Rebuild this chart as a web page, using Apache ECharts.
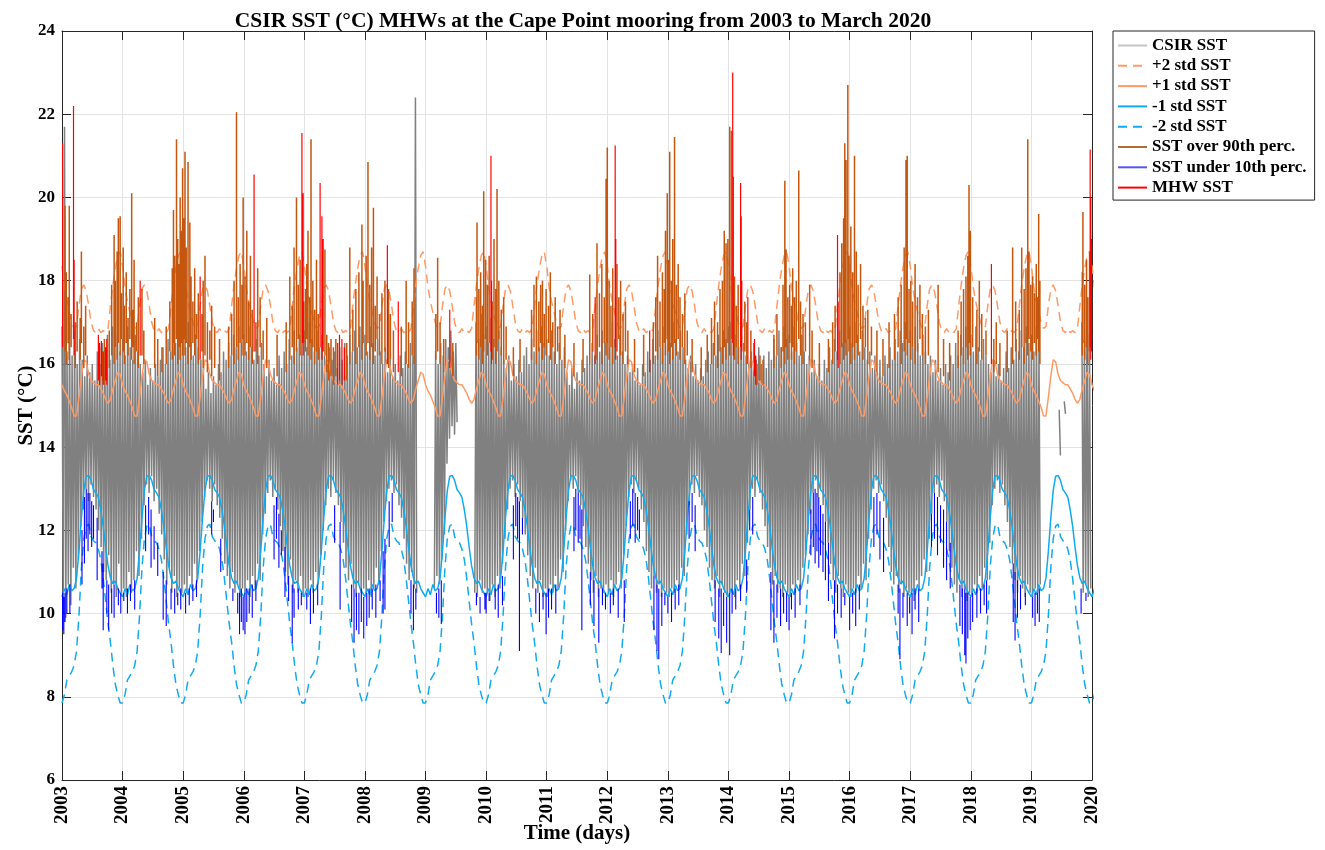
<!DOCTYPE html>
<html>
<head>
<meta charset="utf-8">
<title>CSIR SST MHWs at the Cape Point mooring</title>
<script src="https://cdn.jsdelivr.net/npm/echarts@6/dist/echarts.min.js"></script>
<style>
  html, body { margin: 0; padding: 0; background: #fff; }
  #container { width: 1325px; height: 850px; }
</style>
</head>
<body>
<div id="container"></div>
<script>
// climatology, one year, as fraction of the year (repeated every year)
const climFrac = [0.00, 0.04, 0.08, 0.12, 0.16, 0.20, 0.24, 0.28, 0.32, 0.36, 0.40, 0.44, 0.48,
                  0.52, 0.56, 0.60, 0.64, 0.68, 0.72, 0.76, 0.80, 0.84, 0.88, 0.92, 0.96];
const plus2Std = [18.35, 17.85, 17.5, 17.25, 17.0, 16.85, 16.9, 17.4, 17.8, 17.9, 17.75, 17.4, 17.0,
                  16.8, 16.75, 16.85, 16.75, 16.8, 16.75, 16.85, 17.4, 17.9, 18.3, 18.6, 18.7];
const plus1Std = [15.5, 15.35, 15.25, 15.1, 14.95, 14.75, 14.75, 15.2, 15.7, 16.1, 16.05, 15.75, 15.6,
                  15.55, 15.5, 15.5, 15.4, 15.3, 15.15, 15.05, 15.15, 15.4, 15.6, 15.8, 15.75];
const minus1Std = [10.4, 10.6, 10.45, 10.7, 10.55, 10.6, 10.85, 11.5, 12.3, 12.96, 13.3, 13.32, 13.2,
                   12.98, 12.9, 12.8, 12.5, 12.1, 11.6, 11.15, 10.86, 10.72, 10.78, 10.6, 10.5];
const minus2Std = [7.85, 8.05, 8.4, 8.5, 8.6, 8.75, 9.1, 9.95, 11.1, 11.8, 12.1, 12.15, 11.85,
                   11.75, 11.7, 11.55, 11.3, 10.85, 10.3, 9.75, 9.3, 8.75, 8.3, 8.05, 7.85];
const climYears = [2003, 2004, 2005, 2006, 2007, 2008, 2009, 2010, 2011, 2012,
                   2013, 2014, 2015, 2016, 2017, 2018, 2019, 2020];

// CSIR SST, 48 samples per year (null = no data)
const sstYears = [2003, 2004, 2005, 2006, 2007, 2008, 2009, 2010, 2011,
                  2012, 2013, 2014, 2015, 2016, 2017, 2018, 2019];
const sstRows = [
  [16.9,10.0,21.7,9.9,16.3,10.7,17.0,10.2,16.2,11.1,16.8,10.6,16.0,11.3,16.6,12.1,16.1,12.5,15.7,13.0,16.2,12.7,15.8,13.1,16.0,12.8,15.6,12.5,16.3,12.0,16.0,11.6,16.5,11.0,16.2,10.8,16.7,11.4,16.1,10.5,16.9,10.7,16.4,10.4,16.7,11.2,16.3,10.5],
  [16.6,10.6,16.2,10.4,16.9,11.0,16.4,10.5,16.1,10.8,16.7,11.5,16.3,10.9,16.0,11.8,15.8,12.6,16.1,13.1,15.5,12.9,15.9,13.3,15.6,12.7,16.0,13.0,15.7,12.4,16.1,11.9,16.4,11.3,16.0,10.7,16.6,11.1,16.3,10.5,16.8,10.9,16.5,10.4,16.9,10.6,16.6,10.5],
  [16.8,10.7,16.4,10.5,17.0,10.9,16.5,10.6,16.2,11.2,16.7,10.8,16.4,11.5,16.1,12.2,15.9,12.8,15.4,13.2,15.8,13.0,15.3,12.7,15.7,13.1,15.5,12.6,16.0,12.3,15.8,11.8,16.3,11.2,16.1,10.9,16.5,10.6,16.2,11.0,16.7,10.5,16.4,10.7,16.9,10.4,16.5,10.6],
  [16.7,10.5,16.3,10.8,16.9,10.4,16.4,10.9,16.1,10.6,16.6,11.2,16.2,10.8,16.5,11.9,16.0,12.4,15.7,12.9,16.1,13.2,15.6,12.8,15.9,13.0,15.5,12.5,16.2,12.1,15.9,11.5,16.3,11.0,16.0,10.7,16.6,11.3,16.2,10.5,16.8,10.8,16.4,10.5,16.7,10.9,16.5,10.4],
  [16.8,10.6,16.4,10.4,17.0,10.8,16.6,10.5,16.3,11.0,16.8,10.7,16.4,11.4,16.7,12.0,16.2,12.6,16.0,13.0,16.4,12.8,16.1,13.2,16.3,12.9,15.9,12.6,16.4,12.2,16.1,11.7,16.5,11.1,16.2,10.8,16.7,11.2,16.3,10.6,16.8,10.4,16.4,10.7,16.9,10.5,16.5,10.6],
  [16.7,10.5,16.3,10.8,16.9,10.4,16.5,10.6,16.2,11.1,16.6,10.7,16.3,11.5,16.0,12.2,16.4,12.7,15.8,13.0,16.1,13.2,15.7,12.9,16.0,13.1,15.6,12.6,16.2,12.3,15.9,11.8,16.3,11.2,16.0,10.8,16.5,11.0,16.2,10.6,22.4,10.5,null,null,null,null,null,null],
  [null,null,null,null,null,null,null,10.6,16.3,10.9,16.0,10.7,16.5,11.3,16.2,11.9,16.6,13.6,16.4,14.2,16.8,14.5,16.3,14.3,16.5,14.6,null,null,null,null,null,null,null,null,null,null,null,null,null,10.5,17.0,10.4,16.6,10.8,17.2,10.5,16.7,10.6],
  [16.9,10.5,16.5,10.3,17.1,10.7,16.6,10.4,16.3,10.9,16.8,10.6,16.4,11.2,16.1,11.8,15.9,12.5,16.2,13.0,15.6,13.2,16.0,12.8,15.7,13.1,16.1,12.7,15.8,12.3,16.2,11.9,16.4,11.4,16.0,10.9,16.6,10.6,16.3,11.1,16.8,10.5,16.4,10.8,16.9,10.4,16.5,10.6],
  [16.6,10.4,16.2,10.7,16.8,10.5,16.3,10.9,16.0,10.6,16.5,11.3,16.1,11.0,16.4,12.0,15.8,12.7,15.5,13.2,15.9,13.0,15.4,13.3,15.8,12.9,15.6,12.6,16.1,12.1,15.9,11.6,16.2,11.2,16.0,10.8,16.5,10.5,16.2,10.9,16.7,10.4,16.3,10.6,16.8,10.5,16.5,10.7],
  [16.9,10.5,16.4,10.8,17.0,10.4,16.6,10.7,16.2,11.0,16.7,10.6,16.3,11.4,16.0,12.1,16.2,12.8,15.8,13.1,16.0,12.9,15.6,13.2,15.9,13.0,15.5,12.5,16.0,12.2,15.8,11.5,16.3,11.0,16.1,10.6,16.6,10.9,16.2,10.5,16.8,10.7,16.4,10.4,16.9,10.6,16.5,10.5],
  [16.8,10.4,16.5,10.6,17.0,10.5,16.6,10.8,16.3,10.6,16.8,11.1,16.4,10.9,16.1,11.9,15.9,12.6,16.2,13.1,15.7,12.9,16.0,13.3,15.6,12.8,15.9,12.6,15.7,12.0,16.1,11.6,16.3,11.1,16.0,10.8,16.5,10.6,16.2,10.9,16.7,10.4,16.4,10.7,16.8,10.5,16.6,10.4],
  [16.9,10.5,17.0,10.6,16.5,10.4,16.7,10.8,16.4,10.6,16.9,11.2,16.5,10.9,16.2,11.7,16.0,12.5,16.3,13.0,16.5,12.8,16.1,13.2,16.4,12.9,16.0,12.5,16.2,12.1,15.9,11.6,16.3,11.1,16.1,10.7,16.6,10.9,16.2,10.5,16.8,10.6,16.4,10.4,16.9,10.7,16.6,10.5],
  [16.7,10.4,16.3,10.7,16.9,10.5,16.5,10.8,16.2,10.6,16.7,11.1,16.3,11.4,16.0,11.9,16.2,12.4,15.8,12.9,16.1,13.2,15.7,12.8,16.0,13.0,15.6,12.6,16.1,12.2,15.9,11.7,16.4,11.2,16.1,10.8,16.6,10.5,16.3,10.9,16.8,10.6,16.5,10.4,17.0,10.7,16.6,10.5],
  [16.9,10.4,16.5,10.6,17.0,10.5,16.7,10.9,16.3,10.6,16.8,11.2,16.4,10.8,16.1,11.8,16.3,12.5,15.9,13.0,16.2,13.2,15.8,12.9,16.1,13.1,15.7,12.7,16.2,12.3,16.0,11.6,16.4,11.0,16.1,10.7,16.6,10.9,16.3,10.5,16.8,10.7,16.5,10.4,17.0,10.6,16.6,10.5],
  [16.8,10.5,16.4,10.3,16.9,10.8,16.5,10.6,16.2,10.9,16.7,11.3,16.3,11.0,16.0,11.8,16.2,12.4,15.8,12.9,16.1,13.1,15.6,12.8,15.9,13.2,15.5,12.7,16.0,12.2,15.8,11.5,16.2,11.1,16.0,10.7,16.5,10.5,16.2,10.8,16.7,10.4,16.4,10.6,16.9,10.3,16.5,10.5],
  [16.7,10.4,16.3,10.7,16.9,10.5,16.4,10.9,16.1,10.6,16.6,11.1,16.2,10.8,16.0,11.7,15.8,12.6,16.1,13.0,15.7,13.2,16.0,12.9,15.6,13.1,15.9,12.6,16.3,12.2,15.9,11.6,16.4,11.2,16.1,10.8,16.6,10.5,16.3,10.9,16.8,10.6,16.4,10.4,16.9,10.7,16.5,10.5],
  [16.7,10.4,16.3,10.6,16.9,10.5,16.4,10.7,null,null,null,null,null,null,null,null,null,null,null,null,null,null,14.9,13.8,null,null,15.1,14.8,null,null,null,null,null,null,null,null,null,null,null,null,17.0,10.5,16.6,10.7,17.1,10.4,16.7,10.6]
];

// SST over 90th percentile: [year, base, peak]
const over90 = [
  [2003.05,16.3,19.8],[2003.07,16.0,18.2],[2003.10,16.5,17.6],[2003.12,16.1,19.8],[2003.15,16.4,17.2],[2003.22,15.9,17.0],[2003.25,16.3,17.5],[2003.30,16.1,17.1],[2003.32,16.5,18.7],[2003.36,15.9,16.9],[2003.39,16.2,17.4],[2003.62,15.5,16.4],[2003.67,15.6,16.3],[2003.70,15.5,16.6],[2003.78,15.9,16.8],[2003.82,16.2,17.9],[2003.86,16.0,19.1],[2003.88,16.4,18.0],[2003.91,16.1,18.7],[2003.93,16.5,19.5],[2003.96,16.2,19.55],[2003.98,16.6,17.7],
  [2004.01,16.3,18.8],[2004.03,16.0,17.4],[2004.06,16.5,18.2],[2004.09,16.2,17.1],[2004.12,16.6,17.8],[2004.15,16.1,20.1],[2004.17,16.4,17.3],[2004.19,16.0,18.5],[2004.23,16.3,17.0],[2004.26,15.9,17.6],[2004.32,16.2,17.8],[2004.35,16.0,16.8],[2004.53,15.9,17.1],[2004.58,15.7,16.6],[2004.65,15.8,16.4],[2004.72,16.0,16.9],[2004.78,16.3,17.5],[2004.82,16.1,18.3],[2004.84,16.5,19.7],[2004.86,16.2,18.6],[2004.89,16.6,21.4],[2004.91,16.0,19.0],[2004.93,16.4,18.4],[2004.95,16.1,20.0],[2004.97,16.5,19.2],[2004.99,16.2,20.7],
  [2005.01,16.6,19.5],[2005.03,16.2,21.1],[2005.05,16.5,18.8],[2005.08,16.0,20.85],[2005.11,16.4,19.4],[2005.13,16.1,18.1],[2005.16,16.5,17.5],[2005.19,16.2,18.3],[2005.22,16.6,17.2],[2005.25,16.0,17.7],[2005.31,16.3,17.2],[2005.33,15.9,18.0],[2005.36,16.2,18.6],[2005.40,15.8,17.0],[2005.44,16.1,16.8],[2005.47,15.7,17.4],[2005.52,15.9,16.9],[2005.60,15.6,16.6],[2005.75,15.9,16.9],[2005.80,16.2,17.2],[2005.84,16.0,18.0],[2005.88,16.4,22.05],[2005.91,16.1,17.6],[2005.94,16.5,18.4],[2005.97,16.2,17.9],[2005.99,16.6,20.0],
  [2006.02,16.2,18.1],[2006.05,16.5,19.2],[2006.08,16.1,17.5],[2006.11,16.4,18.6],[2006.14,16.0,17.3],[2006.20,16.3,17.0],[2006.23,16.0,18.3],[2006.27,16.4,17.6],[2006.32,16.1,16.8],[2006.38,15.9,17.1],[2006.55,15.7,16.7],[2006.70,15.8,17.0],[2006.76,16.1,18.1],[2006.80,16.4,17.4],[2006.83,16.0,18.8],[2006.87,16.3,20.0],[2006.90,16.6,17.9],[2006.93,16.2,18.5],[2006.99,16.5,17.5],
  [2007.02,16.3,17.8],[2007.04,16.6,18.4],[2007.06,16.2,19.2],[2007.09,16.5,17.6],[2007.11,16.1,21.4],[2007.14,16.4,18.0],[2007.17,16.0,17.3],[2007.20,16.3,18.5],[2007.23,16.1,17.2],[2007.34,16.2,18.75],[2007.37,15.8,16.7],[2007.40,15.6,16.5],[2007.44,15.7,16.6],[2007.48,15.5,16.4],[2007.52,15.7,16.6],[2007.70,15.6,16.5],[2007.75,16.0,18.8],[2007.80,16.3,17.3],[2007.85,16.0,17.8],[2007.90,16.4,18.2],[2007.95,16.1,19.35],[2007.97,16.5,18.0],
  [2008.02,16.2,18.6],[2008.05,16.5,20.85],[2008.08,16.1,17.9],[2008.11,16.4,18.8],[2008.14,16.0,19.75],[2008.17,16.3,17.4],[2008.20,16.6,18.1],[2008.24,16.2,17.2],[2008.28,16.0,17.7],[2008.33,16.3,18.0],[2008.39,15.9,17.8],[2008.42,16.1,17.2],[2008.47,15.8,16.8],[2008.60,15.7,16.9],[2008.68,16.0,18.0],[2008.72,15.9,17.0],[2008.78,16.2,17.5],[2008.81,16.0,18.3],
  [2009.17,16.1,17.2],[2009.20,16.3,18.55],[2009.24,16.0,17.0],[2009.30,15.8,16.6],[2009.45,15.7,16.5],[2009.84,16.2,17.6],[2009.85,16.5,19.4],[2009.88,16.1,17.8],[2009.91,16.4,18.2],[2009.94,16.0,17.4],[2009.96,16.3,20.15],[2009.99,16.6,18.5],
  [2010.02,16.2,17.9],[2010.05,16.5,18.6],[2010.10,16.1,17.5],[2010.13,16.4,19.0],[2010.16,16.0,17.8],[2010.18,16.3,20.2],[2010.21,16.6,18.0],[2010.25,16.2,17.3],[2010.29,16.0,17.6],[2010.33,16.1,16.9],[2010.45,15.7,16.4],[2010.56,15.8,16.6],[2010.75,16.1,17.3],[2010.79,16.4,17.9],[2010.83,16.0,18.1],[2010.87,16.3,17.5],[2010.90,16.5,17.9],[2010.93,16.1,18.0],[2010.96,16.4,17.2],[2010.99,16.2,17.8],
  [2011.03,16.5,17.4],[2011.06,16.1,18.2],[2011.10,16.4,17.0],[2011.14,16.0,17.6],[2011.18,16.3,16.9],[2011.22,16.1,17.3],[2011.30,15.9,16.7],[2011.45,15.7,16.5],[2011.60,15.8,16.6],[2011.71,16.0,18.15],[2011.76,16.3,17.2],[2011.83,16.1,18.9],[2011.87,16.4,17.7],[2011.91,16.0,18.4],[2011.95,16.5,17.6],[2011.98,16.2,20.45],
  [2012.00,16.5,21.2],[2012.03,16.1,18.0],[2012.06,16.4,17.4],[2012.09,16.0,18.3],[2012.16,16.3,18.4],[2012.19,16.6,17.6],[2012.22,16.2,18.0],[2012.26,16.0,17.2],[2012.30,16.3,17.5],[2012.34,16.0,16.8],[2012.45,15.8,16.6],[2012.60,15.7,16.7],[2012.76,16.0,17.0],[2012.80,16.3,17.6],[2012.83,16.1,18.6],[2012.87,16.4,17.5],[2012.91,16.0,18.2],[2012.94,16.5,17.8],[2012.96,16.2,19.2],[2012.99,16.6,20.1],
  [2013.01,16.3,18.5],[2013.03,16.0,21.1],[2013.06,16.4,18.0],[2013.08,16.1,19.0],[2013.11,16.5,21.45],[2013.14,16.2,17.9],[2013.17,16.6,18.4],[2013.20,16.1,17.6],[2013.24,16.4,17.2],[2013.28,16.0,17.7],[2013.32,16.2,16.8],[2013.40,15.8,16.6],[2013.55,15.6,16.4],[2013.65,15.8,16.7],[2013.72,16.0,17.1],[2013.77,16.2,17.5],[2013.82,15.9,17.0],[2013.86,16.3,17.8],[2013.90,16.0,18.0],[2013.93,16.4,19.2],[2013.96,16.1,18.9],[2013.99,16.5,19.0],
  [2014.02,16.2,21.7],[2014.05,16.6,21.6],[2014.10,16.1,18.1],[2014.13,16.4,17.4],[2014.16,16.0,17.9],[2014.27,16.3,17.5],[2014.30,16.0,17.0],[2014.37,15.9,16.8],[2014.47,15.5,16.0],[2014.52,15.6,16.2],[2014.57,15.5,16.1],[2014.75,15.9,16.7],[2014.80,16.2,17.2],[2014.87,15.9,16.4],[2014.90,16.3,17.9],[2014.93,16.0,20.4],[2014.95,16.4,18.75],[2014.98,16.1,17.6],
  [2015.01,16.5,17.9],[2015.04,16.1,17.4],[2015.06,16.4,18.3],[2015.09,16.0,17.6],[2015.12,16.3,18.0],[2015.16,16.6,20.65],[2015.19,16.2,17.5],[2015.23,16.0,17.2],[2015.27,16.3,17.0],[2015.34,16.1,17.9],[2015.38,15.9,16.8],[2015.50,15.7,16.5],[2015.65,15.8,16.6],[2015.72,16.0,17.0],[2015.76,16.3,17.4],[2015.84,16.0,18.2],[2015.87,16.4,18.9],[2015.90,16.1,19.5],[2015.92,16.5,21.3],[2015.94,16.2,20.9],[2015.97,16.6,22.7],[2015.99,16.3,18.6],
  [2016.02,16.0,19.3],[2016.05,16.4,18.2],[2016.08,16.1,21.0],[2016.11,16.5,18.7],[2016.14,16.2,17.9],[2016.18,16.6,18.4],[2016.22,16.1,17.4],[2016.26,16.4,17.1],[2016.30,16.0,17.3],[2016.36,16.2,16.9],[2016.45,15.8,16.8],[2016.55,15.7,16.6],[2016.65,15.9,17.0],[2016.74,16.1,17.2],[2016.80,16.4,17.6],[2016.85,16.0,17.9],[2016.90,16.3,18.8],[2016.93,16.6,20.9],[2016.95,16.2,21.0],[2016.98,16.5,17.8],
  [2017.01,16.1,18.0],[2017.04,16.4,17.5],[2017.08,16.0,18.4],[2017.12,16.3,17.6],[2017.16,16.6,17.9],[2017.20,16.2,17.2],[2017.25,16.0,16.9],[2017.30,16.2,17.3],[2017.46,15.8,17.9],[2017.55,15.7,16.6],[2017.65,15.6,16.5],[2017.79,15.9,16.8],[2017.84,16.2,17.5],[2017.88,16.0,17.8],[2017.92,16.4,18.1],[2017.95,16.1,18.6],[2017.97,16.5,20.3],[2017.99,16.2,19.2],
  [2018.03,16.4,17.6],[2018.10,16.0,17.3],[2018.14,16.3,18.0],[2018.18,16.1,17.2],[2018.25,16.2,16.8],[2018.38,15.8,16.6],[2018.42,16.0,17.0],[2018.48,15.7,16.5],[2018.60,15.8,16.8],[2018.69,16.0,18.8],[2018.74,16.3,17.5],[2018.80,16.1,17.3],[2018.84,16.4,18.8],[2018.88,16.0,17.8],[2018.91,16.5,18.3],[2018.94,16.2,21.4],[2018.96,16.6,18.7],[2018.99,16.3,17.9],
  [2019.02,16.1,18.1],[2019.05,16.5,17.7],[2019.08,16.2,18.4],[2019.10,16.6,17.6],[2019.12,16.3,19.6],[2019.14,16.0,18.0],[2019.84,16.2,18.2],[2019.85,16.5,19.65],[2019.88,16.1,17.9],[2019.91,16.4,18.5],[2019.93,16.0,17.6],[2019.96,16.3,18.7],[2019.99,16.6,18.9]
];

// SST under 10th percentile: [year, top, bottom]
const under10 = [
  [2003.01,10.5,9.6],[2003.03,10.4,9.5],[2003.05,10.5,9.8],[2003.08,10.6,10.0],[2003.13,10.7,10.0],[2003.33,12.0,10.7],[2003.37,12.8,11.2],[2003.40,13.0,11.8],[2003.43,12.9,11.5],[2003.46,12.9,11.9],[2003.49,12.7,11.6],[2003.52,12.6,11.8],[2003.58,12.3,10.8],[2003.66,11.5,10.6],[2003.68,11.2,9.6],[2003.74,10.8,10.0],[2003.77,10.7,9.6],[2003.82,10.6,10.0],[2003.86,10.7,9.9],[2003.93,10.6,10.2],[2003.97,10.5,10.0],
  [2004.02,10.5,10.3],[2004.08,10.6,10.0],[2004.13,10.7,10.3],[2004.20,10.8,10.1],[2004.38,12.6,11.5],[2004.43,12.8,11.9],[2004.47,12.5,11.1],[2004.52,12.1,11.3],[2004.58,11.7,10.9],[2004.67,11.0,9.85],[2004.72,10.8,9.7],[2004.80,10.6,10.1],[2004.86,10.6,10.0],[2004.91,10.5,10.2],[2004.96,10.6,10.1],
  [2005.04,10.5,10.0],[2005.10,10.6,10.2],[2005.16,10.7,10.3],[2005.22,10.8,10.4],[2005.47,12.7,11.9],[2005.50,12.5,12.2],[2005.62,11.8,11.0],[2005.82,10.6,10.3],[2005.90,10.5,10.0],[2005.93,10.5,9.5],[2005.96,10.6,9.8],[2005.99,10.4,9.6],
  [2006.02,10.5,9.5],[2006.05,10.6,9.8],[2006.09,10.6,10.0],[2006.14,10.7,9.9],[2006.20,10.8,10.3],[2006.50,12.6,11.3],[2006.54,12.8,11.8],[2006.58,12.4,11.1],[2006.62,12.0,11.4],[2006.68,11.6,10.4],[2006.74,10.9,10.3],[2006.80,10.7,9.3],[2006.83,10.6,9.9],[2006.90,10.6,10.1],[2006.95,10.5,10.2],
  [2007.04,10.5,10.1],[2007.10,10.6,9.75],[2007.15,10.6,10.0],[2007.22,10.7,10.2],[2007.50,12.6,11.7],[2007.59,12.2,10.1],[2007.78,10.7,9.8],[2007.82,10.6,9.3],[2007.86,10.5,9.6],[2007.90,10.5,9.5],[2007.94,10.6,9.8],[2007.98,10.4,9.4],
  [2008.03,10.5,9.7],[2008.07,10.6,9.9],[2008.12,10.6,10.1],[2008.18,10.7,9.9],[2008.25,10.8,10.3],[2008.30,11.5,10.0],[2008.33,11.8,10.1],[2008.40,12.7,11.6],[2008.45,12.9,12.2],[2008.76,10.8,10.0],[2008.80,10.7,9.6],[2008.84,10.6,10.1],
  [2009.18,10.5,10.0],[2009.22,10.6,9.9],[2009.26,10.8,9.75],[2009.84,10.5,10.2],[2009.90,10.4,10.0],[2009.98,10.5,10.1],
  [2010.00,10.5,10.0],[2010.05,10.5,10.3],[2010.15,10.6,10.1],[2010.20,10.7,9.9],[2010.27,10.9,10.2],[2010.45,12.6,11.3],[2010.49,12.9,12.1],[2010.52,12.8,11.8],[2010.55,12.7,9.1],[2010.60,12.3,11.9],[2010.82,10.6,10.0],[2010.88,10.5,9.8],[2010.94,10.5,10.1],[2010.99,10.5,9.5],
  [2011.03,10.6,9.9],[2011.08,10.6,10.1],[2011.15,10.7,10.0],[2011.45,12.8,11.5],[2011.48,13.0,12.0],[2011.52,12.9,11.7],[2011.55,12.6,11.8],[2011.58,12.5,9.6],[2011.72,11.0,10.2],[2011.78,10.8,9.7],[2011.86,10.6,9.3],[2011.92,10.6,10.2],[2011.97,10.5,10.1],
  [2012.05,10.5,10.0],[2012.10,10.6,10.2],[2012.18,10.6,9.9],[2012.28,10.8,9.8],[2012.38,12.7,11.8],[2012.42,13.0,12.1],[2012.46,12.9,11.7],[2012.50,12.8,12.0],[2012.53,12.5,11.8],[2012.77,10.9,9.6],[2012.82,10.7,9.1],[2012.85,10.6,8.9],[2012.90,10.5,9.7],[2012.95,10.5,10.2],
  [2013.00,10.4,10.0],[2013.06,10.5,9.8],[2013.12,10.6,10.1],[2013.18,10.7,10.2],[2013.35,12.7,11.8],[2013.40,12.9,12.2],[2013.45,12.6,11.5],[2013.78,10.8,9.8],[2013.84,10.6,9.4],[2013.88,10.6,9.05],[2013.92,10.5,9.7],[2013.97,10.4,9.3],
  [2014.02,10.5,9.0],[2014.06,10.6,10.0],[2014.12,10.6,10.1],[2014.20,10.7,10.3],[2014.30,11.3,10.5],[2014.35,12.5,12.0],[2014.40,12.8,11.9],[2014.70,11.0,9.6],[2014.75,10.8,9.3],[2014.80,10.7,9.9],[2014.86,10.6,9.7],[2014.91,10.5,10.0],[2014.96,10.5,9.8],
  [2015.00,10.4,9.6],[2015.04,10.5,10.1],[2015.10,10.6,9.9],[2015.18,10.7,10.2],[2015.36,12.5,11.4],[2015.40,12.9,11.6],[2015.43,13.0,11.2],[2015.46,12.9,11.5],[2015.49,12.8,11.1],[2015.52,12.6,11.4],[2015.56,12.4,11.0],[2015.60,12.2,10.8],[2015.65,11.7,10.3],[2015.75,10.8,9.4],[2015.80,10.7,10.0],[2015.86,10.6,9.9],[2015.92,10.5,10.2],
  [2016.00,10.4,9.6],[2016.05,10.5,10.0],[2016.10,10.6,9.7],[2016.16,10.7,10.1],[2016.40,12.8,11.6],[2016.45,12.9,11.9],[2016.50,12.7,11.3],[2016.56,12.3,11.0],[2016.80,10.7,10.0],[2016.83,10.6,8.9],[2016.88,10.5,9.9],[2016.95,10.5,9.7],[2016.99,10.4,10.0],
  [2017.03,10.5,9.5],[2017.08,10.6,10.1],[2017.14,10.6,9.8],[2017.35,12.4,11.6],[2017.40,12.9,11.8],[2017.45,12.8,11.4],[2017.50,12.6,11.7],[2017.55,12.5,11.1],[2017.60,12.2,10.8],[2017.66,11.7,10.6],[2017.82,10.7,9.7],[2017.86,10.6,9.5],[2017.90,10.6,9.0],[2017.92,10.5,8.8],[2017.95,10.5,9.4],[2017.99,10.4,9.6],
  [2018.03,10.5,9.8],[2018.10,10.6,9.9],[2018.16,10.6,10.0],[2018.22,10.7,10.2],[2018.26,10.8,10.0],[2018.70,11.2,9.8],[2018.73,11.0,9.35],[2018.77,10.8,9.9],[2018.82,10.7,10.1],[2018.90,10.5,10.2],
  [2019.02,10.4,9.9],[2019.06,10.5,9.7],[2019.10,10.5,10.0],[2019.13,10.6,9.8],[2019.82,10.6,10.0],[2019.90,10.5,10.3]
];

// MHW SST: [year, base, peak]
const mhwSst = [
  [2003.01,16.4,21.3],[2003.19,16.6,22.2],[2003.20,16.2,18.5],[2003.60,15.6,16.7],[2003.62,15.5,16.5],[2003.65,15.7,16.55],[2003.68,15.5,16.3],[2003.72,15.6,16.4],[2003.74,15.5,16.6],
  [2004.29,16.2,18.0],[2005.28,16.1,18.1],[2006.17,16.3,20.55],[2006.96,16.5,21.55],[2006.98,16.2,20.1],
  [2007.26,16.4,20.35],[2007.29,16.1,19.55],[2007.31,16.3,19.0],[2007.55,15.5,16.5],[2007.58,15.6,16.7],[2007.62,15.5,16.6],[2007.66,15.6,16.4],
  [2008.37,16.0,18.85],[2008.55,15.8,17.5],[2009.40,15.9,17.3],[2010.08,16.3,21.0],[2010.09,16.0,18.0],[2011.80,16.0,17.6],
  [2012.13,16.4,21.25],[2012.14,16.1,19.0],[2012.70,15.8,16.8],
  [2014.07,16.5,23.0],[2014.08,16.2,20.5],[2014.20,16.4,20.35],[2014.21,16.1,19.55],[2014.22,16.3,18.0],[2014.32,16.0,17.6],[2014.43,15.7,16.6],[2014.45,15.5,16.2],
  [2015.80,16.1,19.1],[2015.81,15.9,17.5],[2018.34,16.0,18.4],[2019.97,16.4,21.15],[2019.98,16.1,20.0],[2019.99,16.3,19.0]
];

const seriesNames = ['CSIR SST', '+2 std SST', '+1 std SST', '-1 std SST', '-2 std SST',
                     'SST over 90th perc.', 'SST under 10th perc.', 'MHW SST'];

function tileClim(values) {
  const out = [];
  climYears.forEach(y => {
    climFrac.forEach((f, i) => out.push([y + f, values[i]]));
  });
  return out;
}

function sstData() {
  const out = [];
  sstYears.forEach((y, r) => {
    const row = sstRows[r];
    row.forEach((v, i) => out.push([y + i / row.length, v == null ? '-' : v]));
  });
  return out;
}

// one vertical segment per entry: [x, from, to]
function segments(list) {
  const out = [];
  list.forEach(s => out.push([s[0], s[1]], [s[0], s[2]], [s[0], '-']));
  return out;
}

const font = 'Liberation Serif';
const dom = document.getElementById('container');
const myChart = echarts.init(dom, null, { renderer: 'canvas' });

function lineSeries(name, data, color, width, type) {
  return {
    name: name,
    type: 'line',
    data: data,
    symbol: 'none',
    connectNulls: false,
    animation: false,
    lineStyle: { color: color, width: width, type: type || 'solid' },
    itemStyle: { color: color }
  };
}

const option = {
  animation: false,
  title: {
    text: 'CSIR SST (°C) MHWs at the Cape Point mooring from 2003 to March 2020',
    left: 578,
    top: 5,
    textAlign: 'center',
    textStyle: { fontFamily: font, fontWeight: 'bold', fontSize: 21.5, color: '#000' }
  },
  legend: {
    orient: 'vertical',
    left: 1113,
    top: 31,
    itemWidth: 29,
    itemHeight: 12,
    itemGap: 3.3,
    padding: [6, 8, 4, 4],
    borderColor: '#262626',
    borderWidth: 1,
    selectedMode: false,
    itemStyle: { opacity: 0 },
    textStyle: { fontFamily: font, fontWeight: 'bold', fontSize: 17, color: '#000' },
    data: [
      { name: seriesNames[0], lineStyle: { color: '#c4c4c4' } },
      { name: seriesNames[1] },
      { name: seriesNames[2] },
      { name: seriesNames[3] },
      { name: seriesNames[4] },
      { name: seriesNames[5], lineStyle: { color: '#b86a35' } },
      { name: seriesNames[6], lineStyle: { color: '#5555ff' } },
      { name: seriesNames[7] }
    ]
  },
  grid: { left: 62, right: 233, top: 31, bottom: 70, containLabel: false, outerBoundsMode: 'none' },
  xAxis: [
    {
      type: 'value',
      min: 2003,
      max: 2020,
      interval: 1,
      name: 'Time (days)',
      nameLocation: 'middle',
      nameGap: 43,
      nameMoveOverlap: false,
      nameTextStyle: { fontFamily: font, fontWeight: 'bold', fontSize: 21, color: '#000' },
      axisLine: { lineStyle: { color: '#262626' } },
      axisTick: { inside: true, length: 9, lineStyle: { color: '#262626' } },
      axisLabel: {
        rotate: 90,
        margin: 6,
        fontFamily: font,
        fontWeight: 'bold',
        fontSize: 19,
        color: '#000',
        formatter: v => String(v)
      },
      splitLine: { show: true, lineStyle: { color: '#e3e3e3' } }
    },
    {
      type: 'value',
      position: 'top',
      min: 2003,
      max: 2020,
      interval: 1,
      axisLine: { show: true, lineStyle: { color: '#262626' } },
      axisTick: { inside: true, length: 9, lineStyle: { color: '#262626' } },
      axisLabel: { show: false },
      splitLine: { show: false }
    }
  ],
  yAxis: [
    {
      type: 'value',
      min: 6,
      max: 24,
      interval: 2,
      name: 'SST (°C)',
      nameLocation: 'middle',
      nameGap: 25,
      nameMoveOverlap: false,
      nameTextStyle: { fontFamily: font, fontWeight: 'bold', fontSize: 21, color: '#000' },
      axisLine: { show: true, lineStyle: { color: '#262626' } },
      axisTick: { show: true, inside: true, length: 9, lineStyle: { color: '#262626' } },
      axisLabel: { margin: 7, fontFamily: font, fontWeight: 'bold', fontSize: 17, color: '#000' },
      splitLine: { show: true, lineStyle: { color: '#e3e3e3' } }
    },
    {
      type: 'value',
      position: 'right',
      min: 6,
      max: 24,
      interval: 2,
      axisLine: { show: true, lineStyle: { color: '#262626' } },
      axisTick: { show: true, inside: true, length: 9, lineStyle: { color: '#262626' } },
      axisLabel: { show: false },
      splitLine: { show: false }
    }
  ],
  series: [
    lineSeries(seriesNames[0], sstData(), '#808080', 1.5),
    lineSeries(seriesNames[1], tileClim(plus2Std), '#ff9a66', 1.5, [9, 6]),
    lineSeries(seriesNames[2], tileClim(plus1Std), '#ff9a66', 1.5),
    lineSeries(seriesNames[3], tileClim(minus1Std), '#12aaee', 1.5),
    lineSeries(seriesNames[4], tileClim(minus2Std), '#12aaee', 1.5, [9, 6]),
    lineSeries(seriesNames[5], segments(over90), '#c4560e', 1.5),
    lineSeries(seriesNames[6], segments(under10), '#0000ff', 1.1),
    lineSeries(seriesNames[7], segments(mhwSst), '#ff0000', 1.2)
  ]
};

myChart.setOption(option);
window.addEventListener('resize', myChart.resize);
</script>
</body>
</html>
